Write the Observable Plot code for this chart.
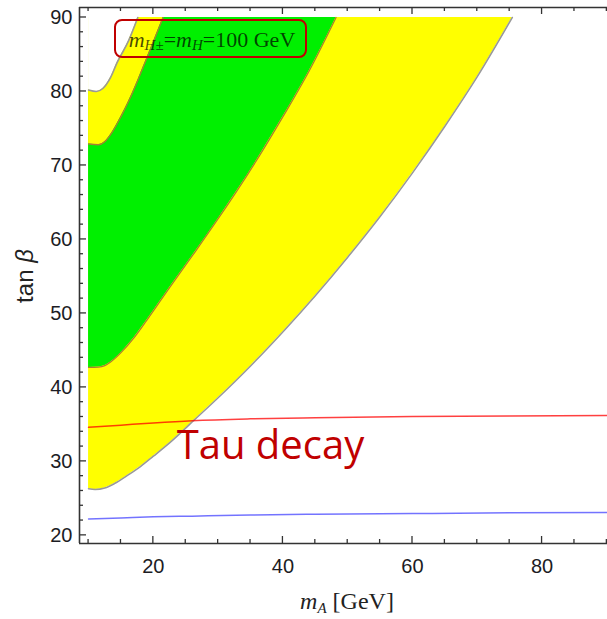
<!DOCTYPE html>
<html><head><meta charset="utf-8">
<script src="https://cdn.jsdelivr.net/npm/d3@7"></script>
<script src="https://cdn.jsdelivr.net/npm/@observablehq/plot@0.6"></script>
<style>body{margin:0;background:#fff;} svg{display:block;}</style>
</head><body><div id="chart"></div>
<script>
// Outer (yellow) lower boundary
const outerLowerX = [10, 11, 12.5, 14, 16, 18, 20, 22.5, 26.2, 30, 35, 40.3, 45, 50, 55, 60, 65, 70, 75.4];
const outerLowerY = [26.3, 26.2, 26.4, 27.0, 28.1, 29.3, 30.7, 32.5, 35.5, 38.6, 42.9, 47.8, 52.4, 57.6, 63.1, 69.0, 75.3, 82.0, 90];
// Outer (yellow) upper-left boundary
const outerUpperX = [10, 11.2, 12.2, 13.4, 14.4, 16.2, 17.6];
const outerUpperY = [80.2, 80.0, 80.4, 81.9, 83.9, 86.9, 90];
// Green lower boundary
const greenLowerX = [10, 11.5, 12.5, 13.5, 15, 17, 19, 22.5, 26.5, 30, 33, 36.5, 40, 44, 48.2];
const greenLowerY = [42.7, 42.75, 42.95, 43.5, 44.7, 46.7, 49.1, 53.5, 58.4, 62.8, 66.7, 71.5, 76.6, 82.7, 90];
// Green upper-left boundary
const greenUpperX = [10, 11.5, 12.5, 13.5, 15, 16.2, 18.8, 21.5];
const greenUpperY = [72.9, 72.8, 73.2, 74.3, 76.6, 78.7, 84.1, 90];
// Tau decay line (red) and blue line
const tauX = [10, 15, 20, 26, 35, 45, 60, 75, 90];
const tauY = [34.6, 34.9, 35.2, 35.5, 35.75, 35.9, 36.05, 36.15, 36.2];
const blueX = [10, 15, 20, 26, 35, 45, 60, 75, 90];
const blueY = [22.2, 22.35, 22.5, 22.6, 22.75, 22.85, 22.95, 23.05, 23.1];
const regionTop = 90;
// Ticks
const xMajor = [20, 40, 60, 80];
const xMinor = [10, 15, 25, 30, 35, 45, 50, 55, 65, 70, 75, 85, 90];
const yMajor = [20, 30, 40, 50, 60, 70, 80, 90];
const yMinor = [22, 24, 26, 28, 32, 34, 36, 38, 42, 44, 46, 48, 52, 54, 56, 58, 62, 64, 66, 68, 72, 74, 76, 78, 82, 84, 86, 88];
const tauLabel = ["Tau decay"];

const pts = (X, Y) => X.map((x, i) => ({x, y: Y[i]}));
const outerLower = pts(outerLowerX, outerLowerY);
const outerUpper = pts(outerUpperX, outerUpperY);
const greenLower = pts(greenLowerX, greenLowerY);
const greenUpper = pts(greenUpperX, greenUpperY);
const tau = pts(tauX, tauY);
const blue = pts(blueX, blueY);

const xDomain = [8.6, 90.1];
const yDomain = [18.9, 91.35];
const frameColor = "#333";

const plot = Plot.plot({
  width: 607, height: 619,
  marginLeft: 79, marginRight: 0, marginTop: 7, marginBottom: 76,
  x: {domain: xDomain},
  y: {domain: yDomain},
  style: {fontFamily: "'Liberation Sans', Arial, sans-serif", fontSize: "20px", color: "#1c1c24", background: "#fff"},
  marks: [
    Plot.areaY(outerLower, {x: "x", y1: "y", y2: () => regionTop, fill: "#ffff00", curve: "monotone-x"}),
    Plot.areaY(greenLower, {x: "x", y1: "y", y2: () => regionTop, fill: "#00f000", curve: "monotone-x"}),
    Plot.areaY(greenUpper, {x: "x", y1: "y", y2: () => regionTop, fill: "#ffff00", curve: "monotone-x"}),
    Plot.areaY(outerUpper, {x: "x", y1: "y", y2: () => regionTop, fill: "#ffffff", curve: "monotone-x"}),
    Plot.line(greenLower, {x: "x", y: "y", stroke: "#a88030", strokeWidth: 1.3, curve: "monotone-x"}),
    Plot.line(greenUpper, {x: "x", y: "y", stroke: "#a88030", strokeWidth: 1.3, curve: "monotone-x"}),
    Plot.line(outerLower, {x: "x", y: "y", stroke: "#999", strokeWidth: 1.6, curve: "monotone-x"}),
    Plot.line(outerUpper, {x: "x", y: "y", stroke: "#999", strokeWidth: 1.6, curve: "monotone-x"}),
    Plot.line(tau, {x: "x", y: "y", stroke: "#ff0000", strokeWidth: 1.5, strokeOpacity: 0.75, curve: "monotone-x"}),
    Plot.line(blue, {x: "x", y: "y", stroke: "#0000ff", strokeWidth: 1.5, strokeOpacity: 0.55, curve: "monotone-x"}),
    Plot.text(tauLabel, {x: () => 23.6, y: () => 32.1, text: d => d, textAnchor: "start", lineAnchor: "middle",
      fontSize: 40, fill: "#c00000", fontFamily: "'Open Sans', 'Noto Sans', sans-serif"}),
    // frame
    Plot.ruleX([xDomain[0]], {stroke: frameColor, strokeWidth: 1.6}),
    Plot.ruleY([yDomain[0]], {stroke: frameColor, strokeWidth: 1.6}),
    Plot.ruleY([yDomain[1]], {stroke: frameColor, strokeWidth: 1.6}),
    // axes: labels
    Plot.axisX({ticks: xMajor, tickSize: 0, tickPadding: 15, label: null}),
    Plot.axisY({ticks: yMajor, tickSize: 0, tickPadding: 7, label: null})
  ]
});
document.getElementById("chart").appendChild(plot);

const svg = d3.select(plot);
const sx = plot.scale("x"), sy = plot.scale("y");
const x0 = sx.apply(xDomain[0]), yB = sy.apply(yDomain[0]), yT = sy.apply(yDomain[1]);
const tg = svg.append("g").attr("stroke", frameColor).attr("stroke-width", 1.3);
const xTick = (vals, len) => vals.forEach(v => {
  const px = sx.apply(v);
  tg.append("line").attr("x1", px).attr("x2", px).attr("y1", yB).attr("y2", yB - len);
  tg.append("line").attr("x1", px).attr("x2", px).attr("y1", yT).attr("y2", yT + len);
});
const yTick = (vals, len) => vals.forEach(v => {
  const py = sy.apply(v);
  tg.append("line").attr("x1", x0).attr("x2", x0 + len).attr("y1", py).attr("y2", py);
});
xTick(xMajor, 7); xTick(xMinor, 4); yTick(yMajor, 7); yTick(yMinor, 4);

// x axis label
const xl = svg.append("text").attr("x", 347).attr("y", 609).attr("text-anchor", "middle")
  .attr("font-family", "'Liberation Serif', 'DejaVu Serif', serif").attr("font-size", 24).attr("fill", "#222");
xl.append("tspan").attr("font-style", "italic").text("m");
xl.append("tspan").attr("font-style", "italic").attr("font-size", 15).attr("dy", 4).text("A");
xl.append("tspan").attr("dy", -4).text(" [GeV]");
// y axis label
const yl = svg.append("text").attr("transform", "translate(33,276) rotate(-90)").attr("text-anchor", "middle")
  .attr("font-family", "'Liberation Sans', Arial, sans-serif").attr("font-size", 24).attr("fill", "#222");
yl.append("tspan").text("tan ");
yl.append("tspan").attr("font-style", "italic").text("β");
// legend box
svg.append("rect").attr("x", 115).attr("y", 20).attr("width", 191).attr("height", 37).attr("rx", 7)
  .attr("fill", "none").attr("stroke", "#c00000").attr("stroke-width", 2);
const lg = svg.append("text").attr("x", 212).attr("y", 47).attr("text-anchor", "middle")
  .attr("font-family", "'Liberation Serif', 'DejaVu Serif', serif").attr("font-size", 22)
  .attr("fill", "#000").attr("fill-opacity", 0.72);
lg.append("tspan").attr("font-style", "italic").text("m");
lg.append("tspan").attr("font-style", "italic").attr("font-size", 15).attr("dy", 3).text("H±");
lg.append("tspan").attr("dy", -3).text("=");
lg.append("tspan").attr("font-style", "italic").text("m");
lg.append("tspan").attr("font-style", "italic").attr("font-size", 15).attr("dy", 3).text("H");
lg.append("tspan").attr("dy", -3).text("=100 GeV");
</script>
</body></html>
